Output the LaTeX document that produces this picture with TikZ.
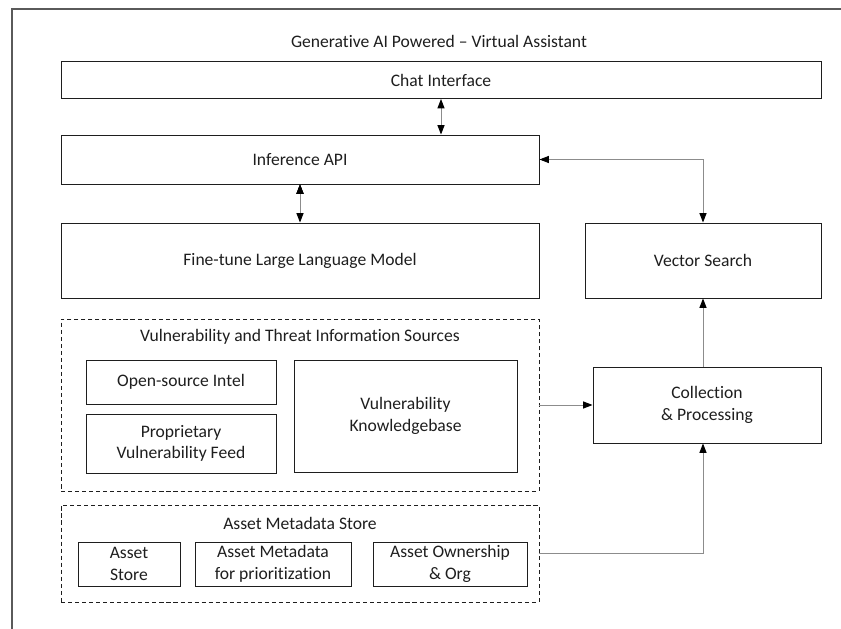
\documentclass[tikz,border=0pt]{standalone}
\usepackage{fontspec}
\setmainfont{Carlito}[Ligatures=NoCommon]
\usetikzlibrary{positioning, arrows.meta}
\definecolor{edgegray}{HTML}{8C8C8C}
\definecolor{framegray}{HTML}{5A5A5A}
\definecolor{inkgray}{HTML}{1E1E1E}

\begin{document}
\begin{tikzpicture}[x=0.03cm,y=-0.03cm,
    font=\fontsize{15}{18.5}\selectfont, text=inkgray,
    blk/.style 2 args={draw=inkgray, line width=0.8pt, align=center, inner sep=0pt,
      minimum width=#1*0.03cm, minimum height=#2*0.03cm},
    grp/.style 2 args={blk={#1}{#2}, dashed, dash pattern=on 3.5pt off 2.5pt},
    link/.style={draw=edgegray, line width=0.8pt,
      arrows={-Triangle[length=8pt,width=6pt,color=black]}},
    dlink/.style={link, arrows={Triangle[length=8pt,width=6pt,color=black]-Triangle[length=8pt,width=6pt,color=black]}}]
  \useasboundingbox (0,0) rectangle (841,629);
  % Outer frame
  \draw[framegray, line width=1.2pt] (12,629) -- (12,9) -- (841,9);

  % Define blocks
  \node (title) at (439,41) {Generative AI Powered -- Virtual Assistant};
  \node[blk={760}{37}] (chat) at (441,80) {Chat Interface};
  \node[blk={478}{49}] (infer) at (300,159.5) {Inference API};
  \node[blk={478}{75}] (llm) at (300,260.5) {Fine-tune Large Language Model};
  \node[blk={236}{75}] (vec) at (703,260.5) {Vector Search};

  % Threat sources
  \node[grp={478}{172}] (vulngrp) at (300,405) {};
  \node (vulntitle) at (300,337) {Vulnerability and Threat Information Sources};
  \node[blk={190}{44}] (osint) at (181,382) {Open-source Intel};
  \node[blk={190}{59}] (propfeed) at (181,443.5) {Proprietary\\Vulnerability Feed};
  \node[blk={223}{112}] (kb) at (405.5,416) {Vulnerability\\Knowledgebase};

  \node[blk={228}{76}] (collect) at (707,405) {Collection\\\& Processing};

  % Asset store
  \node[grp={478}{97}] (assetgrp) at (300,553.5) {};
  \node (assettitle) at (300,523) {Asset Metadata Store};
  \node[blk={102}{44}] (assetstore) at (129,564) {Asset\\Store};
  \node[blk={156}{44}] (assetmeta) at (273,564) {Asset Metadata\\for prioritization};
  \node[blk={154}{44}] (owner) at (450,564) {Asset Ownership\\\& Org};

  % Define connectors
  \path[dlink]
    (chat.south) edge (chat.south |- infer.north)
    (infer.south) edge (llm.north);
  \draw[dlink] (infer.east) -| (vec.north);
  \draw[link] (vulngrp.east) -- (collect.west);
  \draw[link] (assetgrp.east) -| (vec.south |- collect.south);
  \draw[link] (vec.south |- collect.north) -- (vec.south);
\end{tikzpicture}
\end{document}
